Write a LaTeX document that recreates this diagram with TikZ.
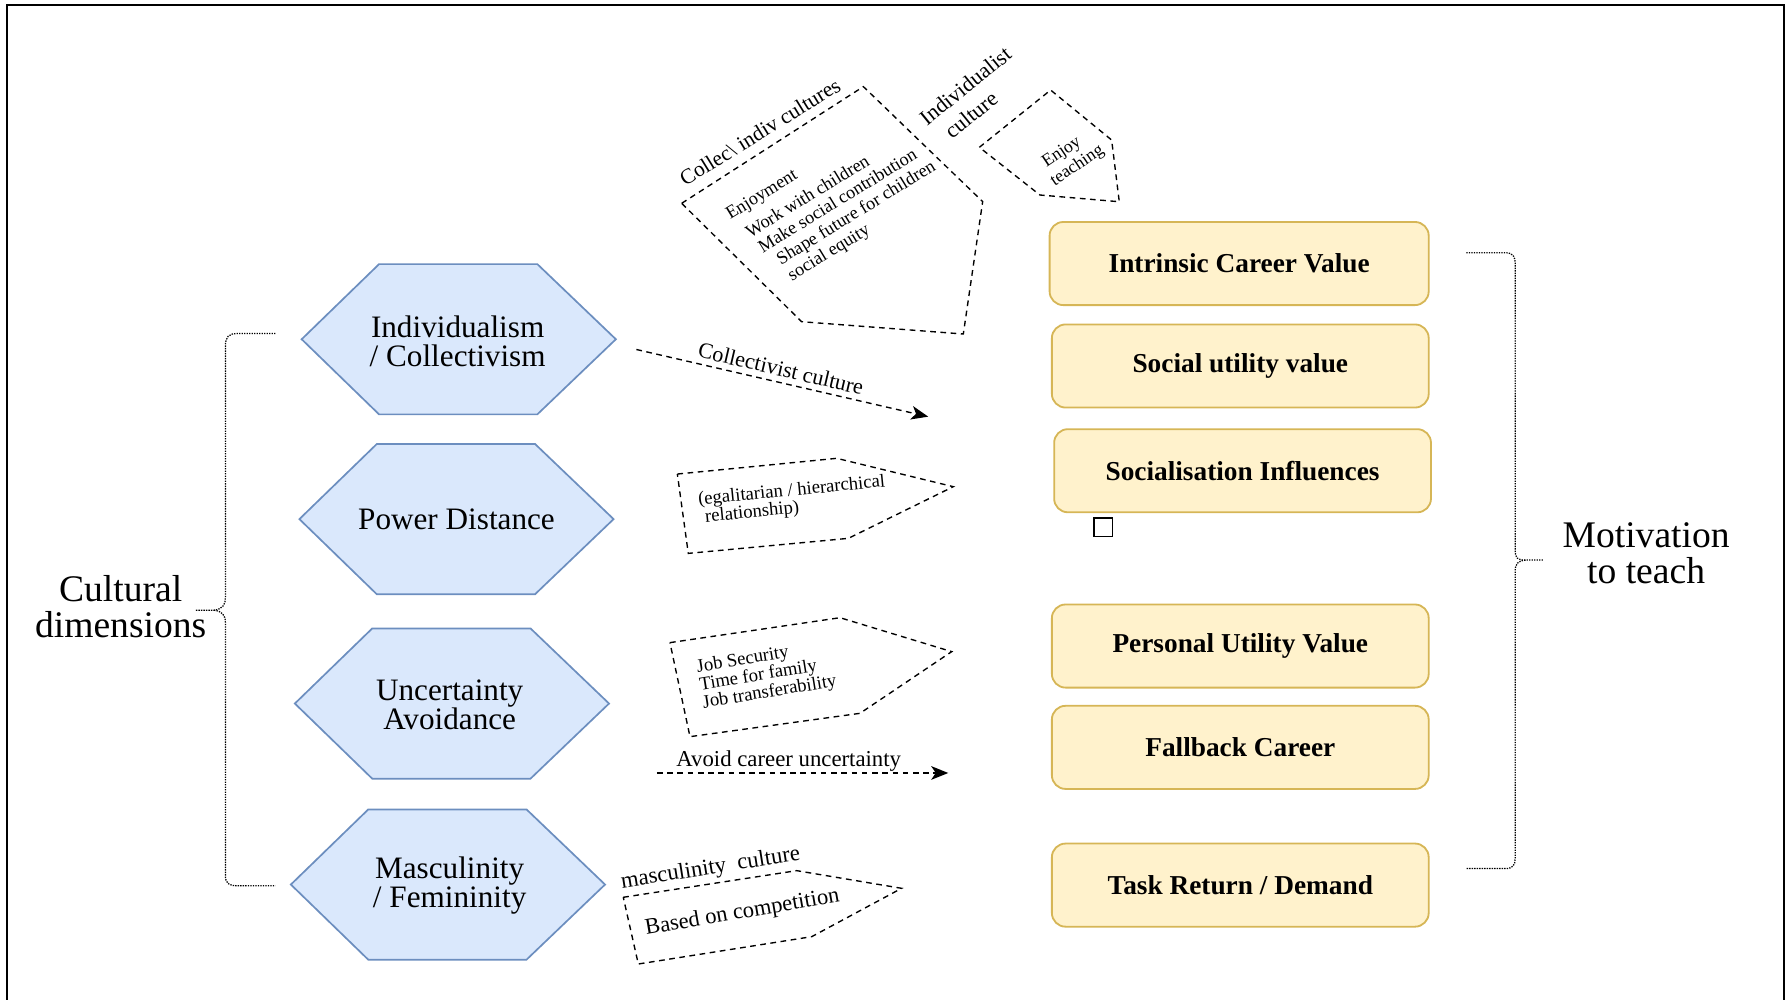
\documentclass[tikz,border=0pt]{standalone}
\usepackage{fontspec}
\setmainfont{Liberation Serif}
\usetikzlibrary{arrows.meta}
\definecolor{hexfill}{HTML}{DAE8FC}
\definecolor{hexline}{HTML}{6C8EBF}
\definecolor{boxfill}{HTML}{FFF2CC}
\definecolor{boxline}{HTML}{D6B656}
\tikzset{
  hexa/.style={fill=hexfill,draw=hexline,line width=0.75pt,line join=miter},
  hextext/.style={align=center,inner sep=0pt,font=\fontsize{13.7}{13}\selectfont},
  ybox/.style={draw=boxline,fill=boxfill,line width=0.8pt,rounded corners=6pt,
    minimum width=165.5pt,minimum height=36.5pt,inner sep=0pt,
    font=\bfseries\fontsize{12}{14}\selectfont},
  dpent/.style={draw=black,line width=0.6pt,dash pattern=on 2.5pt off 2pt,line join=miter},
  arr/.style={draw=black,line width=0.6pt,dash pattern=on 2.5pt off 2pt,
    -{Stealth[length=7.5pt,width=6pt,inset=2pt]}},
  brace/.style={draw=black,line width=0.55pt,dash pattern=on 0.6pt off 0.5pt},
  bigtext/.style={align=center,inner sep=0pt,font=\fontsize{16.5}{15.5}\selectfont},
  lbl/.style={anchor=base west,inner sep=0pt},
}
\begin{document}
\begin{tikzpicture}[x=0.5pt,y=-0.5pt]
\useasboundingbox (0,0) rectangle (1568,878.4);
% frame
\draw[line width=1pt] (6.4,878.4) -- (6.4,4.4) -- (1567,4.4) -- (1567,878.4);

% hexagons
\coordinate (c1) at (403,298);
\coordinate (c2) at (401,456);
\coordinate (c3) at (397,618);
\coordinate (c4) at (393.5,777);
\foreach \c in {c1,c2,c3,c4}{
  \draw[hexa] (\c) ++(-138,0) -- ++(68,-66) -- ++(139,0) -- ++(69,66)
     -- ++(-69,66) -- ++(-139,0) -- cycle;
}
\node[hextext] (h1) at (402,300) {Individualism\\/ Collectivism};
\node[hextext] (h2) at (401,456) {Power Distance};
\node[hextext] (h3) at (395,619) {Uncertainty\\Avoidance};
\node[hextext] (h4) at (395,778) {Masculinity\\/ Femininity};

% yellow boxes
\node[ybox,minimum width=166.5pt] (b1) at (1088.5,231.5) {Intrinsic Career Value};
\node[ybox] (b2) at (1089.5,321.5) {Social utility value};
\node[ybox] (b3) at (1091.5,413.5) {Socialisation Influences};
\node[ybox] (b4) at (1089.5,567.5) {Personal Utility Value};
\node[ybox] (b5) at (1089.5,656.5) {Fallback Career};
\node[ybox] (b6) at (1089.5,777.5) {Task Return / Demand};
\draw[line width=0.5pt] (961,455) rectangle (977,471);

% braces
\draw[brace] (242,293) -- (208,293) .. controls (201,293) and (198,296) .. (198,304)
  -- (198,525) .. controls (198,532) and (195,535) .. (188,536) -- (172,536);
\draw[brace] (188,536) .. controls (195,537) and (198,540) .. (198,547)
  -- (198,769) .. controls (198,776) and (201,778) .. (208,778) -- (242,778);
\draw[brace] (1288,222) -- (1322,222) .. controls (1329,222) and (1331,225) .. (1331,232)
  -- (1331,484) .. controls (1331,490) and (1333,492) .. (1340,492) -- (1356,492);
\draw[brace] (1340,492) .. controls (1333,493) and (1331,495) .. (1331,502)
  -- (1331,754) .. controls (1331,760) and (1329,763) .. (1322,763) -- (1288,763);
\node[bigtext] (cd) at (106,533) {Cultural\\dimensions};
\node[bigtext] (mt) at (1446,486) {Motivation\\to teach};

% dashed pentagons
\draw[dpent] (598.8,178.6) -- (758.4,76.1) -- (863.2,177.1) -- (846.2,293.4) -- (704.2,282.6) -- cycle;
\draw[dpent] (860.3,129.4) -- (922.9,79.1) -- (976.5,123) -- (983.2,177.2) -- (913.5,171.3) -- cycle;
\draw[dpent] (595,416.4) -- (735,402.6) -- (837.4,427.5) -- (745.2,472.9) -- (604.6,486.1) -- cycle;
\draw[dpent] (588.5,564.5) -- (737.9,542.6) -- (836,572.4) -- (755.4,626.6) -- (606.1,647.1) -- cycle;
\draw[dpent] (547.5,788.2) -- (699.8,764.8) -- (792,780.3) -- (713,822.8) -- (560.7,846.8) -- cycle;

% texts of the big pentagon
\node[lbl,rotate=31.7,font=\fontsize{9.4}{11}\selectfont] (t1) at (601.7,164) {Collec\textbackslash\ indiv cultures};
\node[lbl,rotate=31.5,font=\fontsize{8}{8.6}\selectfont] (e1) at (641.2,193.3)
  {\begin{tabular}[t]{@{}l@{}}Enjoyment\\[2.8pt]
   \hspace{3.3pt}Work with children\\
   \hspace{4.5pt}Make social contribution\\
   \hspace{8.6pt}Shape future for children\\
   \hspace{9pt}social equity\end{tabular}};
% individualist
\node[lbl,rotate=39,font=\fontsize{9.6}{11.5}\selectfont] (t2) at (814,111.3)
  {\begin{tabular}[t]{@{}l@{}}Individualist\\\hspace{4.9pt}culture\end{tabular}};
\node[lbl,rotate=34,font=\fontsize{7.8}{8.7}\selectfont] (t4) at (916.5,149.3)
  {\begin{tabular}[t]{@{}l@{}}\hspace{1.5pt}Enjoy\\teaching\end{tabular}};
% power distance
\node[lbl,rotate=5.6,font=\fontsize{8.2}{6.9}\selectfont] (p1) at (613.4,443.6)
  {\begin{tabular}[t]{@{}l@{}}(egalitarian / hierarchical\\\hspace{2.3pt}relationship)\end{tabular}};
% uncertainty
\node[lbl,rotate=9.3,font=\fontsize{8.2}{7.3}\selectfont] (u1) at (612.5,590.6)
  {\begin{tabular}[t]{@{}l@{}}Job Security\\Time for family\\Job transferability\end{tabular}};
% masculinity
\node[lbl,rotate=9,font=\fontsize{10}{12}\selectfont] (m1) at (546.1,780.3) {masculinity\ \ culture};
\node[lbl,rotate=9.8,font=\fontsize{9.9}{12}\selectfont] (m2) at (567.5,821.3) {Based on competition};

% arrows
\coordinate (a1s) at (559,307);
\coordinate (a1e) at (815.4,366);
\draw[arr] (a1s) -- (a1e);
\node[lbl,rotate=-13.1,font=\fontsize{9.7}{12}\selectfont] (l1) at (612,313.3) {Collectivist culture};
\coordinate (a2s) at (577,679);
\coordinate (a2e) at (833,679);
\draw[arr] (a2s) -- (a2e);
\node[lbl,font=\fontsize{10}{12}\selectfont] (l2) at (593.8,673.4) {Avoid career uncertainty};
\end{tikzpicture}
\end{document}
